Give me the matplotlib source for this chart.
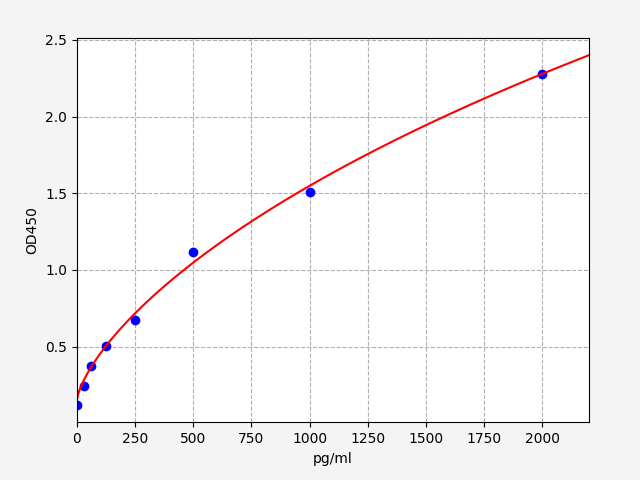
import numpy as np
import matplotlib
matplotlib.use("Agg")
import matplotlib.pyplot as plt

# standard points
conc = [0, 31.25, 62.5, 125, 250, 500, 1000, 2000]
od = [0.119, 0.241, 0.374, 0.505, 0.674, 1.12, 1.506, 2.281]

# 4PL fit parameters
fit_a = 0.147
fit_b = 0.70
fit_c = 20100.0
fit_d = 13.0

x_max = 2200

xs = np.linspace(0, x_max, 400)
ys = fit_d + (fit_a - fit_d) / (1 + (xs / fit_c) ** fit_b)

fig = plt.figure(figsize=(6.4, 4.8), dpi=100, facecolor="#f4f4f4")
ax = fig.add_subplot(111)
fig.subplots_adjust(left=0.12, right=0.92, bottom=0.12, top=0.92)

ax.plot(conc, od, "bo")
ax.plot(xs, ys, "r-")
ax.set_xlim(0, x_max)
ax.set_ylim(0.006, 2.51)
ax.set_xticks(np.arange(0, 2001, 250))
ax.set_yticks([0.5, 1.0, 1.5, 2.0, 2.5])
ax.grid(True, linestyle="--", color="#b0b0b0")
ax.set_xlabel("pg/ml")
ax.set_ylabel("OD450")

fig.savefig("out.png")
